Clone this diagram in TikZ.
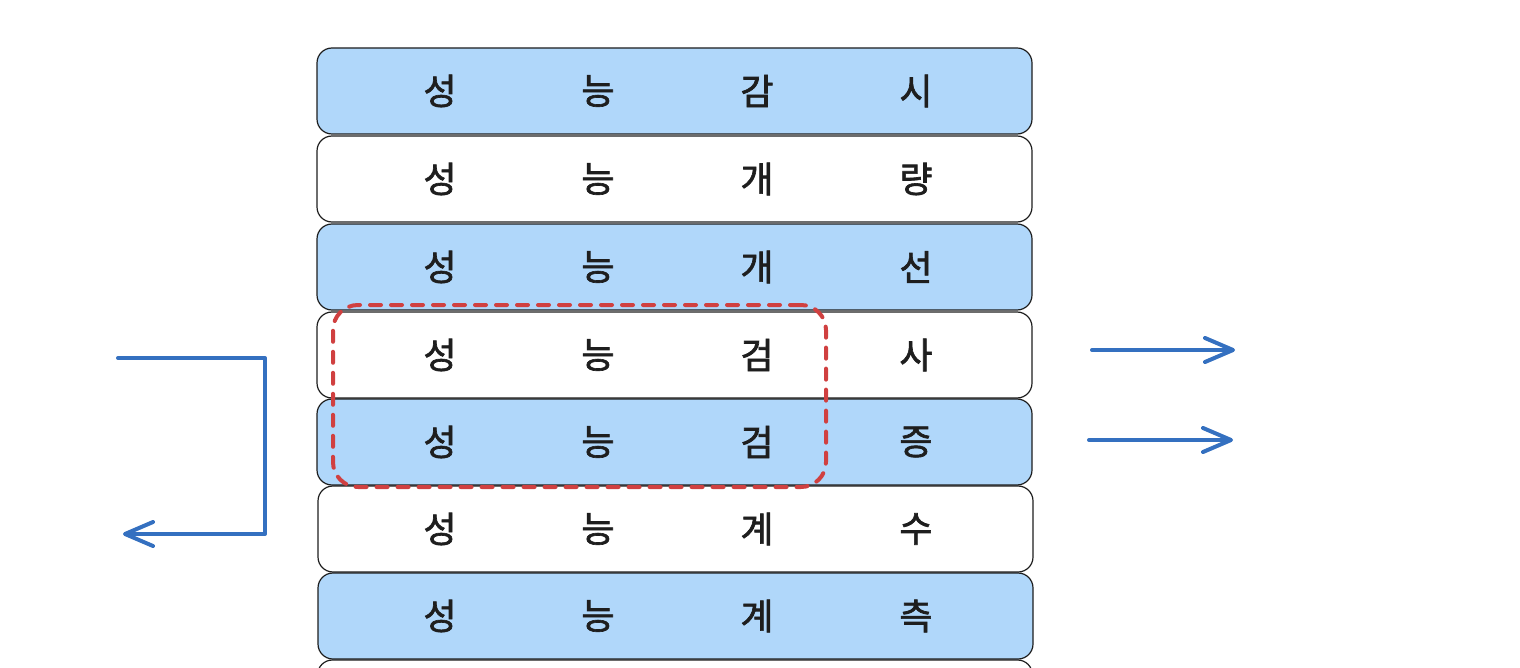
\documentclass[tikz,border=0pt]{standalone}
\usepackage{fontspec}
\newfontfamily\kr[FakeBold=1.8]{Noto Sans CJK KR}
\usetikzlibrary{arrows.meta}
\definecolor{rowblue}{RGB}{176,215,250}
\definecolor{inkblack}{RGB}{30,30,30}
\definecolor{arrowblue}{RGB}{52,112,192}
\definecolor{dashred}{RGB}{208,64,64}
\tikzset{
  rowbox/.style={draw=inkblack, line width=1.2pt, rounded corners=15pt,
    minimum width=715pt, minimum height=86pt, inner sep=0pt},
  bluerow/.style={rowbox, fill=rowblue},
  whiterow/.style={rowbox, fill=white},
  ch/.style={font=\kr\fontsize{36}{42}\selectfont, text=inkblack, inner sep=0pt},
  flow/.style={draw=arrowblue, line width=4pt, line cap=round, line join=round,
    -{Straight Barb[length=28pt,width=24pt,round]}},
  groupbox/.style={draw=dashred, line width=4pt, rounded corners=25pt,
    dash pattern=on 11pt off 10pt, line cap=round}
}
\begin{document}
\begin{tikzpicture}[x=1pt,y=-1pt]
\useasboundingbox (0,0) rectangle (1520,668);
\begin{scope}
\clip (0,0) rectangle (1520,668);
\node[whiterow] (r8) at (675,703) {};
\end{scope}
\node[bluerow]  (r1) at (674.5,91) {};
\node[whiterow] (r2) at (674.5,179) {};
\node[bluerow]  (r3) at (674.5,267) {};
\node[whiterow] (r4) at (674.5,355) {};
\node[bluerow]  (r5) at (674.5,442) {};
\node[whiterow] (r6) at (675.5,529) {};
\node[bluerow]  (r7) at (675.5,616) {};
% texts
\foreach \r/\y/\a/\b/\c/\d in {1/91/성/능/감/시, 2/179/성/능/개/량, 3/267/성/능/개/선,
  4/355/성/능/검/사, 5/442/성/능/검/증, 6/529/성/능/계/수, 7/616/성/능/계/측}{
  \node[ch] (t\r a) at (440,\y) {\a};
  \node[ch] (t\r b) at (598,\y) {\b};
  \node[ch] (t\r c) at (757,\y) {\c};
  \node[ch] (t\r d) at (916,\y) {\d};
}
% red dashed group
\node[groupbox, minimum width=493pt, minimum height=182pt] (grp) at (579.5,396) {};
% left bracket arrow
\coordinate (ls) at (118,358);
\coordinate (lc1) at (265,358);
\coordinate (lc2) at (265,534);
\coordinate (le) at (123,534);
\draw[flow] (ls) -- (lc1) -- (lc2) -- (le);
% right arrows
\coordinate (a1s) at (1092,350);
\coordinate (a1e) at (1235,350);
\coordinate (a2s) at (1089,440);
\coordinate (a2e) at (1233,440);
\draw[flow] (a1s) -- (a1e);
\draw[flow] (a2s) -- (a2e);
\end{tikzpicture}
\end{document}
